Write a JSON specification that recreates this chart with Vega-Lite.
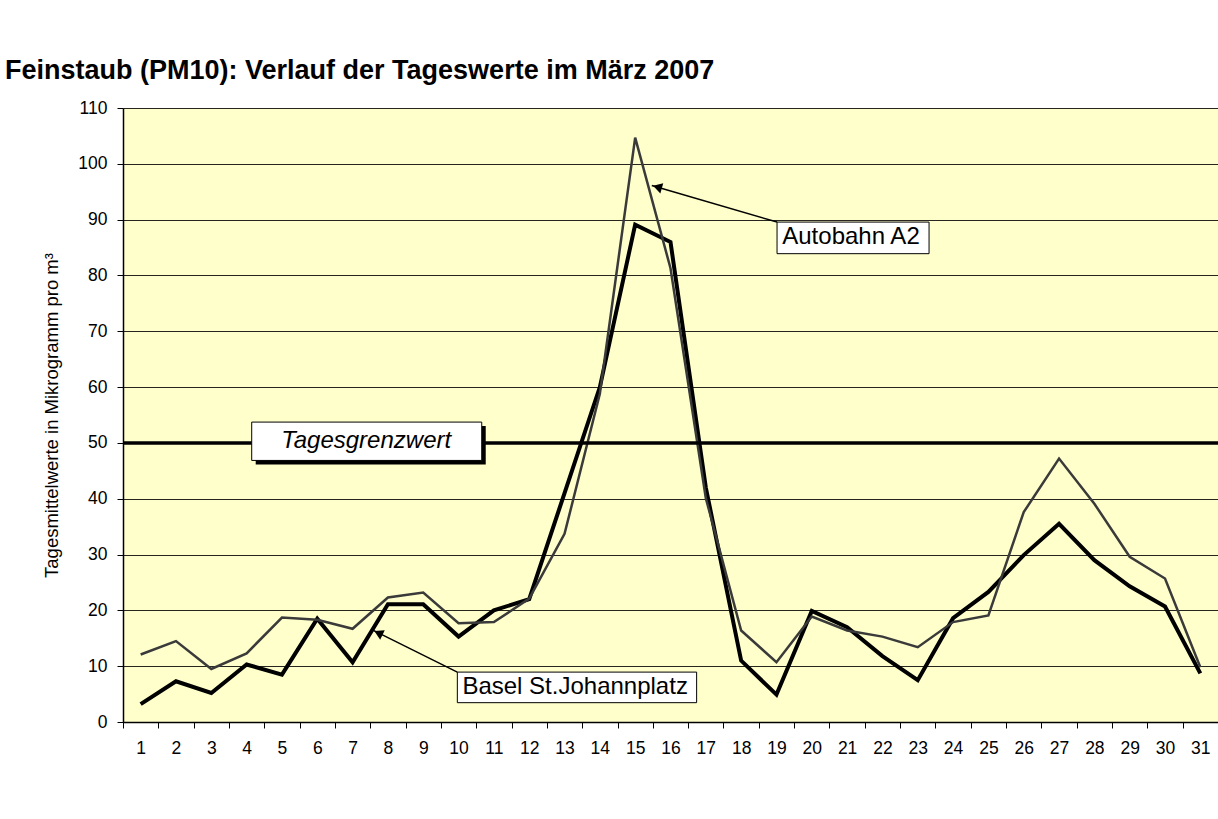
{
  "$schema": "https://vega.github.io/schema/vega-lite/v6.json",
  "width": 1095,
  "height": 614,
  "autosize": {"type": "none"},
  "padding": {"left": 123, "top": 108, "right": 0, "bottom": 97},
  "background": "white",
  "title": {
    "text": "Feinstaub (PM10): Verlauf der Tageswerte im März 2007",
    "anchor": "start",
    "frame": "group",
    "dx": -118,
    "dy": 34,
    "offset": 27,
    "baseline": "alphabetic",
    "font": "Liberation Sans",
    "fontSize": 27,
    "fontWeight": "bold",
    "color": "black"
  },
  "config": {
    "view": {"fill": "#FFFFCC", "stroke": null},
    "font": "Liberation Sans",
    "axis": {"labelOverlap": false}
  },
  "datasets": {
    "pm": [
      {"day": 1, "station": "Basel St.Johannplatz", "value": 3.2},
      {"day": 2, "station": "Basel St.Johannplatz", "value": 7.3},
      {"day": 3, "station": "Basel St.Johannplatz", "value": 5.2},
      {"day": 4, "station": "Basel St.Johannplatz", "value": 10.3},
      {"day": 5, "station": "Basel St.Johannplatz", "value": 8.5},
      {"day": 6, "station": "Basel St.Johannplatz", "value": 18.5},
      {"day": 7, "station": "Basel St.Johannplatz", "value": 10.7},
      {"day": 8, "station": "Basel St.Johannplatz", "value": 21.1},
      {"day": 9, "station": "Basel St.Johannplatz", "value": 21.1},
      {"day": 10, "station": "Basel St.Johannplatz", "value": 15.3},
      {"day": 11, "station": "Basel St.Johannplatz", "value": 20.0},
      {"day": 12, "station": "Basel St.Johannplatz", "value": 22.0},
      {"day": 13, "station": "Basel St.Johannplatz", "value": 41.0},
      {"day": 14, "station": "Basel St.Johannplatz", "value": 60.0},
      {"day": 15, "station": "Basel St.Johannplatz", "value": 89.1},
      {"day": 16, "station": "Basel St.Johannplatz", "value": 86.0},
      {"day": 17, "station": "Basel St.Johannplatz", "value": 42.0},
      {"day": 18, "station": "Basel St.Johannplatz", "value": 11.0},
      {"day": 19, "station": "Basel St.Johannplatz", "value": 4.9},
      {"day": 20, "station": "Basel St.Johannplatz", "value": 19.9},
      {"day": 21, "station": "Basel St.Johannplatz", "value": 17.0},
      {"day": 22, "station": "Basel St.Johannplatz", "value": 11.8},
      {"day": 23, "station": "Basel St.Johannplatz", "value": 7.5},
      {"day": 24, "station": "Basel St.Johannplatz", "value": 18.6},
      {"day": 25, "station": "Basel St.Johannplatz", "value": 23.3},
      {"day": 26, "station": "Basel St.Johannplatz", "value": 29.9},
      {"day": 27, "station": "Basel St.Johannplatz", "value": 35.5},
      {"day": 28, "station": "Basel St.Johannplatz", "value": 29.0},
      {"day": 29, "station": "Basel St.Johannplatz", "value": 24.3},
      {"day": 30, "station": "Basel St.Johannplatz", "value": 20.7},
      {"day": 31, "station": "Basel St.Johannplatz", "value": 8.7},
      {"day": 1, "station": "Autobahn A2", "value": 12.1},
      {"day": 2, "station": "Autobahn A2", "value": 14.5},
      {"day": 3, "station": "Autobahn A2", "value": 9.5},
      {"day": 4, "station": "Autobahn A2", "value": 12.3},
      {"day": 5, "station": "Autobahn A2", "value": 18.7},
      {"day": 6, "station": "Autobahn A2", "value": 18.3},
      {"day": 7, "station": "Autobahn A2", "value": 16.7},
      {"day": 8, "station": "Autobahn A2", "value": 22.3},
      {"day": 9, "station": "Autobahn A2", "value": 23.2},
      {"day": 10, "station": "Autobahn A2", "value": 17.7},
      {"day": 11, "station": "Autobahn A2", "value": 17.9},
      {"day": 12, "station": "Autobahn A2", "value": 22.1},
      {"day": 13, "station": "Autobahn A2", "value": 33.7},
      {"day": 14, "station": "Autobahn A2", "value": 58.8},
      {"day": 15, "station": "Autobahn A2", "value": 104.7},
      {"day": 16, "station": "Autobahn A2", "value": 81.3},
      {"day": 17, "station": "Autobahn A2", "value": 40.1},
      {"day": 18, "station": "Autobahn A2", "value": 16.4},
      {"day": 19, "station": "Autobahn A2", "value": 10.7},
      {"day": 20, "station": "Autobahn A2", "value": 18.9},
      {"day": 21, "station": "Autobahn A2", "value": 16.4},
      {"day": 22, "station": "Autobahn A2", "value": 15.3},
      {"day": 23, "station": "Autobahn A2", "value": 13.4},
      {"day": 24, "station": "Autobahn A2", "value": 17.9},
      {"day": 25, "station": "Autobahn A2", "value": 19.1},
      {"day": 26, "station": "Autobahn A2", "value": 37.6},
      {"day": 27, "station": "Autobahn A2", "value": 47.2},
      {"day": 28, "station": "Autobahn A2", "value": 39.1},
      {"day": 29, "station": "Autobahn A2", "value": 29.6},
      {"day": 30, "station": "Autobahn A2", "value": 25.7},
      {"day": 31, "station": "Autobahn A2", "value": 9.8}
    ],
    "limit": [{"day": 0.5, "day2": 31.5, "value": 50, "value2": 50}],
    "limitShadow": [{"day": 4.257, "day2": 10.769, "value": 53.01, "value2": 46.15}],
    "boxes": [
      {"day": 4.144, "day2": 10.656, "value": 53.73, "value2": 46.86},
      {"day": 19.016, "day2": 23.32, "value": 89.56, "value2": 83.9},
      {"day": 9.965, "day2": 16.74, "value": 8.94, "value2": 3.46}
    ],
    "labelsNormal": [
      {"day": 21.11, "value": 86.8, "label": "Autobahn A2"},
      {"day": 13.3, "value": 6.3, "label": "Basel St.Johannplatz"}
    ],
    "labelItalic": [
      {"day": 7.385, "value": 50.3, "label": "Tagesgrenzwert"}
    ],
    "arrows": [
      {"day": 19.016, "value": 89.56, "day2": 15.47, "value2": 96.13},
      {"day": 9.965, "value": 8.94, "day2": 7.587, "value2": 16.41}
    ],
    "headA": [{"day": 15.63, "value": 95.83}],
    "headB": [{"day": 7.73, "value": 15.95}]
  },
  "encoding": {
    "x": {
      "field": "day",
      "type": "quantitative",
      "scale": {"domain": [0.5, 31.5], "nice": false, "zero": false},
      "axis": {
        "title": null,
        "values": [0.5, 1.5, 2.5, 3.5, 4.5, 5.5, 6.5, 7.5, 8.5, 9.5, 10.5, 11.5, 12.5, 13.5, 14.5, 15.5, 16.5, 17.5, 18.5, 19.5, 20.5, 21.5, 22.5, 23.5, 24.5, 25.5, 26.5, 27.5, 28.5, 29.5, 30.5],
        "labelExpr": "format(datum.value + 0.5, 'd')",
        "labelOffset": 17.66,
        "labelFlush": false,
        "labelOverlap": false,
        "labelBound": false,
        "grid": false,
        "tickSize": 6,
        "tickColor": "black",
        "tickWidth": 1,
        "domainColor": "black",
        "domainWidth": 1.5,
        "labelFontSize": 17.5,
        "labelColor": "black",
        "labelPadding": 11,
        "labelFont": "Liberation Sans"
      }
    },
    "y": {
      "field": "value",
      "type": "quantitative",
      "scale": {"domain": [0, 110], "nice": false},
      "axis": {
        "title": "Tagesmittelwerte in Mikrogramm pro m³",
        "titleFont": "Liberation Sans",
        "titleFontSize": 18.5,
        "titleFontWeight": "normal",
        "titleColor": "black",
        "titlePadding": 16,
        "values": [0, 10, 20, 30, 40, 50, 60, 70, 80, 90, 100, 110],
        "grid": true,
        "gridColor": "#000000",
        "gridWidth": 1,
        "gridOpacity": 0.85,
        "tickSize": 6,
        "tickColor": "black",
        "domainColor": "black",
        "domainWidth": 1.5,
        "labelFontSize": 17.5,
        "labelColor": "black",
        "labelPadding": 10,
        "labelFont": "Liberation Sans"
      }
    }
  },
  "layer": [
    {
      "data": {"name": "pm"},
      "transform": [{"filter": "datum.station == 'Basel St.Johannplatz'"}],
      "mark": {"type": "line", "color": "black", "strokeWidth": 4, "strokeJoin": "miter"}
    },
    {
      "data": {"name": "pm"},
      "transform": [{"filter": "datum.station == 'Autobahn A2'"}],
      "mark": {"type": "line", "color": "#3a3a3a", "strokeWidth": 2.5}
    },
    {
      "data": {"name": "limit"},
      "mark": {"type": "rule", "color": "black", "strokeWidth": 3.5},
      "encoding": {
        "x2": {"field": "day2"},
        "y2": {"field": "value2"}
      }
    },
    {
      "data": {"name": "limitShadow"},
      "mark": {"type": "rect", "fill": "black"},
      "encoding": {
        "x2": {"field": "day2"},
        "y2": {"field": "value2"}
      }
    },
    {
      "data": {"name": "boxes"},
      "mark": {"type": "rect", "fill": "white", "stroke": "black", "strokeWidth": 1},
      "encoding": {
        "x2": {"field": "day2"},
        "y2": {"field": "value2"}
      }
    },
    {
      "data": {"name": "labelsNormal"},
      "mark": {"type": "text", "font": "Liberation Sans", "fontSize": 24, "color": "black", "align": "center", "baseline": "middle"},
      "encoding": {
        "text": {"field": "label"}
      }
    },
    {
      "data": {"name": "labelItalic"},
      "mark": {"type": "text", "font": "Liberation Sans", "fontSize": 24, "fontStyle": "italic", "color": "black", "align": "center", "baseline": "middle"},
      "encoding": {
        "text": {"field": "label"}
      }
    },
    {
      "data": {"name": "arrows"},
      "mark": {"type": "rule", "color": "black", "strokeWidth": 1.5},
      "encoding": {
        "x2": {"field": "day2"},
        "y2": {"field": "value2"}
      }
    },
    {
      "data": {"name": "headA"},
      "mark": {"type": "point", "shape": "triangle-up", "filled": true, "color": "black", "size": 110, "angle": 286, "opacity": 1}
    },
    {
      "data": {"name": "headB"},
      "mark": {"type": "point", "shape": "triangle-up", "filled": true, "color": "black", "size": 110, "angle": 296, "opacity": 1}
    }
  ]
}
